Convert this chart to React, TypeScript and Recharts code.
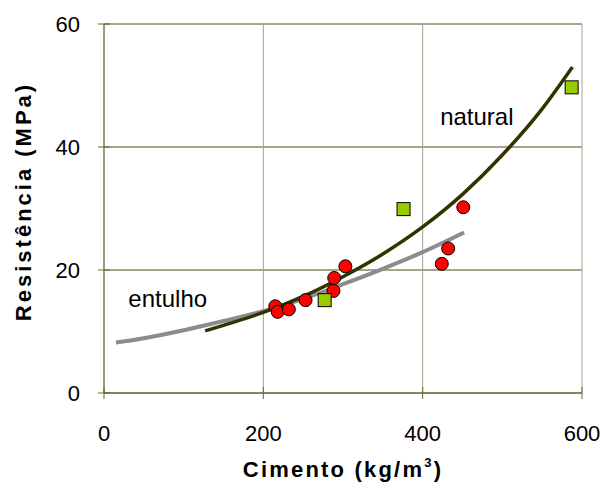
import {
  CartesianGrid,
  ComposedChart,
  Label,
  Line,
  ReferenceDot,
  Scatter,
  XAxis,
  YAxis,
} from 'recharts';

// cement content (kg/m3) vs compressive strength (MPa)
const circleCimento = [215, 218, 232, 253, 288, 289, 303, 424, 432, 451];
const circleResist = [14.1, 13.2, 13.6, 15.1, 16.6, 18.7, 20.6, 21.0, 23.5, 30.2];

const squareCimento = [277, 376, 587];
const squareResist = [15.1, 29.9, 49.7];

// trend curves
const naturalCimento = [127, 150, 200, 250, 300, 350, 400, 450, 500, 550, 588];
const naturalResist = [10.1, 11.0, 13.1, 15.7, 18.9, 22.6, 27.0, 32.3, 38.7, 46.2, 53.0];

const entulhoCimento = [15, 50, 100, 150, 200, 250, 300, 350, 400, 452];
const entulhoResist = [8.2, 8.9, 10.2, 11.7, 13.3, 15.3, 17.7, 20.2, 22.9, 26.1];

const xTicks = [0, 200, 400, 600];
const yTicks = [0, 20, 40, 60];

const zip = (xs: number[], ys: number[]) => xs.map((x, i) => ({ x, y: ys[i] }));

const circles = zip(circleCimento, circleResist);
const squares = zip(squareCimento, squareResist);
const natural = zip(naturalCimento, naturalResist);
const entulho = zip(entulhoCimento, entulhoResist);

const FONT = '"Liberation Sans", Arial, sans-serif';
const AXIS = '#666633';

const XTick = (props: any) => {
  const { x, y, payload } = props;
  return (
    <g>
      <line x1={x} x2={x} y1={y - 26 - 6} y2={y - 26 - 12} stroke={AXIS} />
      <text x={x} y={y} dy="0.71em" textAnchor="middle" fontSize={22} fontFamily={FONT} fill="#000">
        {payload.value}
      </text>
    </g>
  );
};

const YTick = (props: any) => {
  const { x, y, payload } = props;
  return (
    <g>
      <line x1={x + 18 + 6} x2={x + 18 + 12} y1={y} y2={y} stroke={AXIS} />
      <text x={x} y={y} dy="0.36em" textAnchor="end" fontSize={22} fontFamily={FONT} fill="#000">
        {payload.value}
      </text>
    </g>
  );
};

const XTitle = (props: any) => {
  const { x, y, width } = props.viewBox;
  return (
    <text
      x={x + width / 2}
      y={y + 84}
      textAnchor="middle"
      fontSize={22}
      fontWeight="bold"
      letterSpacing={2.2}
      fontFamily={FONT}
      fill="#000"
    >
      Cimento (kg/m
      <tspan fontSize={13} dy={-10}>3</tspan>
      <tspan dy={10}>)</tspan>
    </text>
  );
};

const YTitle = (props: any) => {
  const { x, y, height } = props.viewBox;
  const cx = x + 31;
  const cy = y + height / 2 - 7;
  return (
    <text
      x={cx}
      y={cy}
      transform={`rotate(-90 ${cx} ${cy})`}
      textAnchor="middle"
      fontSize={22}
      fontWeight="bold"
      letterSpacing={3}
      fontFamily={FONT}
      fill="#000"
    >
      Resistência (MPa)
    </text>
  );
};

const RedCircle = (props: any) => (
  <circle cx={props.cx} cy={props.cy} r={6.5} fill="#ff0000" stroke="#000" strokeWidth={1} />
);

const GreenSquare = (props: any) => (
  <rect x={props.cx - 6.5} y={props.cy - 6.5} width={13} height={13} fill="#99cc00" stroke="#000" strokeWidth={1} />
);

export default function App() {
  return (
    <div style={{ position: 'absolute', left: 0, top: 0, background: '#fff' }}>
      <ComposedChart width={606} height={486} margin={{ top: 24, right: 24, left: 0, bottom: 0 }}>
        <CartesianGrid vertical={false} stroke="#4d4d1f" />
        <CartesianGrid horizontal={false} stroke="#a3a38a" />
        <XAxis
          type="number"
          dataKey="x"
          domain={[0, 600]}
          ticks={xTicks}
          height={93}
          stroke={AXIS}
          tickSize={6}
          tickMargin={26}
          tick={<XTick />}
          allowDataOverflow
        >
          <Label content={<XTitle />} />
        </XAxis>
        <YAxis
          type="number"
          dataKey="y"
          domain={[0, 60]}
          ticks={yTicks}
          width={104}
          stroke={AXIS}
          tickSize={6}
          tickMargin={18}
          tick={<YTick />}
          allowDataOverflow
        >
          <Label content={<YTitle />} />
        </YAxis>
        <Scatter data={circles} shape={<RedCircle />} isAnimationActive={false} />
        <Scatter data={squares} shape={<GreenSquare />} isAnimationActive={false} />
        <Line
          data={entulho}
          dataKey="y"
          type="monotone"
          stroke="#8c8c8c"
          strokeWidth={4}
          dot={false}
          activeDot={false}
          isAnimationActive={false}
        />
        <Line
          data={natural}
          dataKey="y"
          type="monotone"
          stroke="#333300"
          strokeWidth={3.5}
          dot={false}
          activeDot={false}
          isAnimationActive={false}
        />
        <ReferenceDot
          x={468}
          y={44.9}
          r={0}
          label={{ value: 'natural', position: 'center', fontSize: 24, fontFamily: FONT, fill: '#000' }}
        />
        <ReferenceDot
          x={80}
          y={15.3}
          r={0}
          label={{ value: 'entulho', position: 'center', fontSize: 24, fontFamily: FONT, fill: '#000' }}
        />
      </ComposedChart>
    </div>
  );
}
